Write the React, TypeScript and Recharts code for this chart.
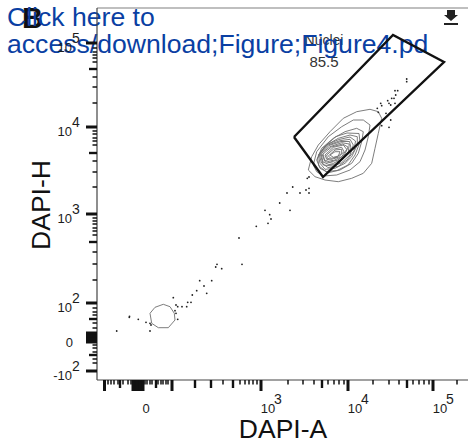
import { ScatterChart, Scatter, XAxis, YAxis, ReferenceLine } from "recharts";

// all values are display channels of the biexponential axes
const xTicks = [7.5, 11, 14, 17, 21, 23, 26, 31, 34, 36, 37.5, 39, 40, 41.5, 43, 44.5, 46, 48, 50, 53, 55, 59, 61, 64, 66, 69, 71, 75, 98, 114, 126, 136, 143, 148, 152, 156, 160, 164, 191, 206, 217, 225, 231, 237, 242, 247, 251, 276, 292, 302, 310, 316, 322, 327, 332, 336, 360];
const xLong = [7.5, 36, 37.5, 39, 40, 41.5, 43, 44.5, 46, 75, 164, 251, 336];
const xMid = [23, 59, 98, 114, 136, 225, 310];
const yTicks = [337, 332, 328, 325, 322, 318, 311, 303, 293, 277, 253, 249, 246, 242, 239, 235, 227, 219, 208, 193, 166, 162, 159, 156, 152, 149, 145, 138, 128, 116, 100, 77, 72, 68, 65, 61, 57, 52, 47, 45.5, 44, 42.5, 41, 39.5, 38, 35, 32, 28, 25, 21, 17, 9];
const yLong = [337, 253, 166, 77, 47, 45.5, 44, 42.5, 41, 39.5, 38, 9];
const yMid = [311, 227, 138, 61, 25];

const xLabels: Record<number, [string, string]> = { 40: ["0", ""], 164: ["10", "3"], 251: ["10", "4"], 336: ["10", "5"] };
const yLabels: Record<number, [string, string]> = { 337: ["10", "5"], 253: ["10", "4"], 166: ["10", "3"], 77: ["10", "2"], 42.5: ["0", ""], 9: ["-10", "2"] };

const dots = [
  [19.7, 49], [32.3, 62.7], [32.5, 63.7], [41.3, 60.7], [49, 57.7], [53, 56.7], [54, 55], [53, 49], [76.3, 82.3],
  [79, 75], [80.7, 73.3], [85, 73.3], [89.7, 73.3], [90.7, 77.7], [94, 77.7], [95.3, 85], [99.7, 89.3],
  [102.7, 99.3], [107, 94], [109.7, 86.7], [114.7, 99.3], [78, 69.3], [79, 66.7], [80.7, 60.7],
  [118.7, 113], [120, 115.7], [124.7, 111.3], [145, 115.7], [142, 142], [159.3, 153.7], [171, 156.7],
  [174, 161], [172.7, 165.3], [168, 169.7], [193, 169.7], [182.7, 177], [190, 187], [195.7, 193],
  [203, 187], [209, 190], [212, 187], [212, 191.7], [210.3, 201.7], [212, 203],
  [309.7, 301], [309.7, 298.3], [300.7, 289.3], [298, 289.3], [298.7, 285], [290.7, 279.3], [292, 276.7],
  [294.7, 281.7], [297, 281.7], [293.7, 275], [298, 276.7], [283.7, 276.7], [284.7, 274.3], [280.3, 271.7],
  [281.3, 267.7], [289, 266.7], [293.7, 260], [284.7, 254.3], [292, 252.7],
];

const contours = [
  [[211.3, 210], [214.7, 223.3], [221.3, 235], [233, 248.3], [246.3, 261.7], [259.7, 268.3], [273, 270.7], [281.3, 268.3], [284.7, 261.7], [281.3, 246.7], [278, 231.7], [274.7, 216.7], [266.3, 206.7], [254.7, 201.7], [241.3, 198.3], [228, 200], [218, 203.3]],
  [[216.3, 215], [219.7, 228.3], [231.3, 243.3], [244.7, 253.3], [256.3, 260], [266.3, 260], [273, 255], [271.3, 243.3], [268, 230], [263, 218.3], [253, 210], [239.7, 205], [226.3, 204], [219.7, 208.3]],
  [[219.7, 220], [224.7, 231.7], [236.3, 241.7], [248, 248.3], [259.7, 251.7], [266.3, 248.3], [264.7, 238.3], [261.3, 226.7], [254.7, 216.7], [243, 210], [231.3, 207.3], [223, 211.7]],
  [[220.5, 222], [227, 233], [239, 243.5], [250, 247], [262, 246.5], [263, 238], [258, 225], [251, 215], [240, 209.5], [229, 208.5], [222, 214]],
  [[221.3, 225], [229.7, 235], [241.3, 241.7], [253, 245], [260.3, 243.3], [260.3, 235], [254.7, 223.3], [248, 216.7], [238, 211.7], [228, 210.7], [223, 216.7]],
  [[222, 226], [230, 235.5], [242, 240.5], [253, 243], [258.5, 239], [257, 229], [250, 220], [241, 213.5], [231, 212.5], [224.5, 217]],
  [[223, 226.7], [231.3, 235], [243, 239.3], [253, 240.7], [256.3, 235], [253, 225], [244.7, 217.3], [236.3, 214], [226.3, 215]],
  [[224, 226.5], [232, 234.5], [244, 238.5], [252.5, 238.5], [254, 232], [248, 223], [240, 216], [232, 215.5], [226, 218]],
  [[224.7, 226.7], [233, 233.3], [244.7, 237.3], [252.3, 236], [251.3, 228.3], [244.7, 220.7], [236.3, 216.7], [228, 218.3]],
  [[226, 226], [234.5, 233], [245.5, 236], [251, 233], [248, 226], [241, 220], [233, 218], [227.5, 220]],
  [[228, 225], [236.3, 232.7], [246.3, 235], [249.7, 230.7], [244.7, 223.3], [236.3, 219.3], [229.7, 220.7]],
  [[229.7, 225], [236.3, 230.7], [244.7, 232.7], [247, 228.3], [241.3, 222.7], [234.7, 220.7], [230.3, 221.7]],
  [[231.3, 224], [238, 230], [244.7, 230.7], [244.7, 226.7], [239.7, 222.7], [234, 221.7]],
  [[233, 225], [238, 228.3], [243, 228.3], [241.3, 224], [236.3, 222.7]],
  [[53, 66.7], [58, 72.7], [66.3, 75.7], [73, 73.3], [77.3, 66.7], [78, 60], [71.3, 52.3], [61.3, 52.3], [54.7, 56.7]],
];

const gate = [[197, 243], [296, 345], [347, 318], [226, 203]];

const FONT = "'Liberation Sans', Arial, sans-serif";
const TEXT = "#1c1c1c";

const toRows = (pts: number[][]) => pts.map(([x, y]) => ({ x, y }));
const closed = (pts: number[][]) => toRows([...pts, pts[0]]);

function tickStyle(v: number, long: number[], mid: number[]) {
  if (long.includes(v)) return { len: 11, w: 3 };
  if (mid.includes(v)) return { len: 8, w: 2.4 };
  return { len: 4.5, w: 1.5 };
}

function XTick({ x, y, payload }: any) {
  const v = payload.value;
  const s = tickStyle(v, xLong, xMid);
  const label = xLabels[v];
  return (
    <g>
      <line x1={x} x2={x} y1={y} y2={y + s.len} stroke="#111" strokeWidth={s.w} />
      {label && (
        <text x={x + (label[1] ? 7 : 9)} y={y + 33} textAnchor="middle" fontSize={13} fontFamily={FONT} fill={TEXT}>
          {label[0]}
        </text>
      )}
      {label && label[1] && (
        <text x={x + 17} y={y + 24} textAnchor="middle" fontSize={14} fontFamily={FONT} fill={TEXT}>
          {label[1]}
        </text>
      )}
    </g>
  );
}

function YTick({ x, y, payload }: any) {
  const v = payload.value;
  const s = tickStyle(v, yLong, yMid);
  const label = yLabels[v];
  return (
    <g>
      <line x1={x} x2={x - s.len} y1={y} y2={y} stroke="#111" strokeWidth={s.w} />
      {label && (
        <text x={label[1] ? 72 : 73} y={y + 9} textAnchor="end" fontSize={13} fontFamily={FONT} fill={TEXT}>
          {label[0]}
        </text>
      )}
      {label && label[1] && (
        <text x={72} y={y} textAnchor="start" fontSize={14} fontFamily={FONT} fill={TEXT}>
          {label[1]}
        </text>
      )}
    </g>
  );
}

const Dot = ({ cx, cy }: any) => <circle cx={cx} cy={cy} r={0.9} fill="#222" />;
const NoDot = () => null;

export default function App() {
  return (
    <div style={{ position: "absolute", left: 0, top: 0, width: 468, height: 441 }}>
      <ScatterChart width={468} height={441} margin={{ top: 8, right: 0, bottom: 0, left: 0 }}>
        <XAxis
          type="number"
          dataKey="x"
          domain={[0, 371]}
          ticks={xTicks}
          interval={0}
          height={61}
          tickSize={0}
          tickMargin={0}
          tickLine={false}
          axisLine={{ stroke: "#444", strokeWidth: 1.2 }}
          tick={<XTick />}
        />
        <YAxis
          type="number"
          dataKey="y"
          domain={[0, 372]}
          ticks={yTicks}
          interval={0}
          width={97}
          tickSize={0}
          tickMargin={0}
          tickLine={false}
          axisLine={{ stroke: "#444", strokeWidth: 1.2 }}
          tick={<YTick />}
        />
        <ReferenceLine y={372} stroke="#aaa" strokeWidth={1.5} />
        {contours.map((c, i) => (
          <Scatter
            key={i}
            data={closed(c)}
            line={{ stroke: "#6e6e6e", strokeWidth: 0.9 }}
            shape={NoDot}
            isAnimationActive={false}
          />
        ))}
        <Scatter data={toRows(dots)} shape={Dot} isAnimationActive={false} />
        <Scatter
          data={closed(gate)}
          line={{ stroke: "#111", strokeWidth: 2.4 }}
          shape={NoDot}
          isAnimationActive={false}
        />
        <path d="M447 10h8v5h3l-7 6-7-6h3zM444 23h14v2h-14z" fill="#222" />
        <text x={324} y={45} textAnchor="middle" fontSize={14} fontFamily={FONT} fill="#333">Nuclei</text>
        <text x={324} y={67} textAnchor="middle" fontSize={15} fontFamily={FONT} fill="#333">85.5</text>
        <text x={283} y={438} textAnchor="middle" fontSize={26.5} fontFamily={FONT} fill="#111">DAPI-A</text>
        <text x={50} y={205} textAnchor="middle" fontSize={26.5} fontFamily={FONT} fill="#111" transform="rotate(-90 50 205)">DAPI-H</text>
        <text x={22} y={28} fontSize={29} fontWeight="bold" fontFamily={FONT} fill="#111">B</text>
        <text x={7} y={26} fontSize={26.6} fontFamily={FONT} fill="#0a3fa3">Click here to</text>
        <text x={7} y={53} fontSize={26.6} fontFamily={FONT} fill="#0a3fa3">access/download;Figure;Figure4.pd</text>
      </ScatterChart>
    </div>
  );
}
